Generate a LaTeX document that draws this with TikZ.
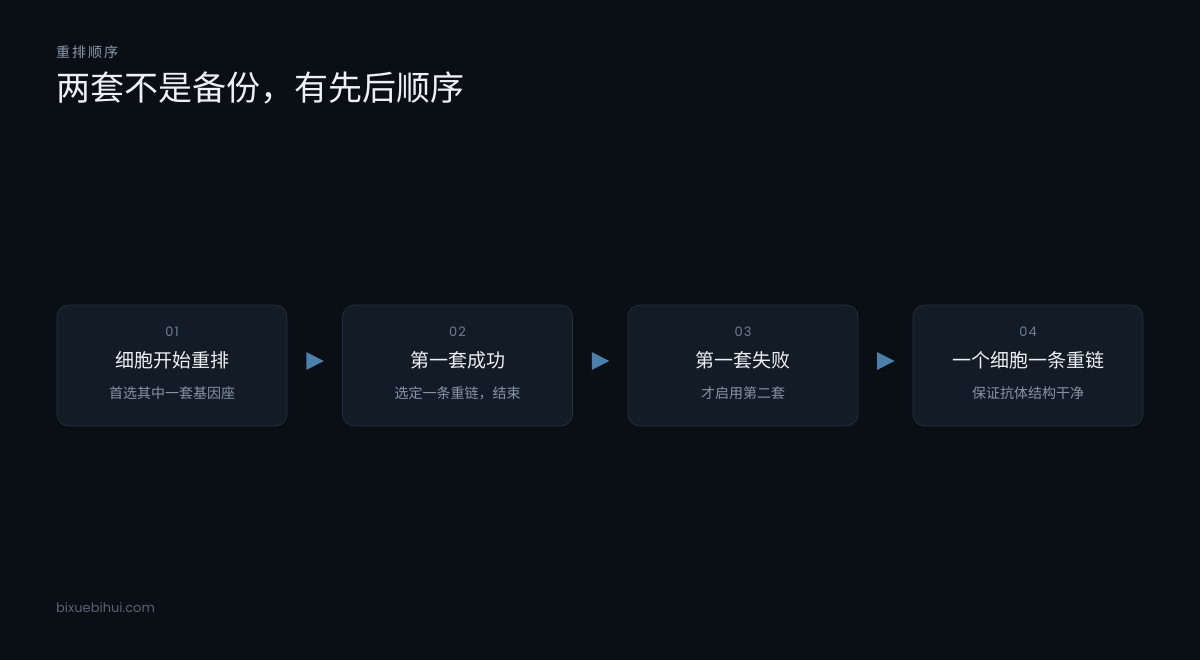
\documentclass[tikz,border=0pt]{standalone}
\usepackage{fontspec}
\usetikzlibrary{calc}
\setmainfont{Poppins}
\newfontfamily\cjk{Noto Sans CJK SC}
\newfontfamily\lat{Poppins}[LetterSpace=8]
\newfontfamily\foot{Poppins}
\definecolor{bg}{HTML}{0A0F16}
\definecolor{cardfill}{HTML}{131B27}
\definecolor{cardline}{HTML}{252F3D}
\definecolor{arrowc}{HTML}{4A80AA}
\definecolor{numc}{HTML}{6F7F90}
\definecolor{titlec}{HTML}{EDF1F5}
\definecolor{subc}{HTML}{8694A4}
\definecolor{kickc}{HTML}{8A99AA}
\definecolor{footc}{HTML}{566373}
\tikzset{
  card/.style={draw=cardline, line width=0.8pt, fill=cardfill, rounded corners=12pt, minimum width=230pt, minimum height=121pt, inner sep=0pt},
  numtxt/.style={text=numc, font=\lat\fontsize{13}{15}\selectfont, anchor=center},
  cardtitle/.style={text=titlec, font=\cjk\fontsize{19}{22}\selectfont, anchor=center},
  cardsub/.style={text=subc, font=\cjk\fontsize{14}{16}\selectfont, anchor=center},
  tri/.style={fill=arrowc, draw=none},
}
\begin{document}
\begin{tikzpicture}[x=1pt,y=-1pt]
\fill[bg] (0,0) rectangle (1200,660);
\useasboundingbox (0,0) rectangle (1200,660);
\node[anchor=west, text=kickc, font=\cjk\fontsize{14}{16}\selectfont, inner sep=0pt] (kick) at (56,52) {重\kern2pt排\kern2pt顺\kern2pt序};
\node[anchor=west, text=titlec, font=\cjk\fontsize{34}{40}\selectfont, inner sep=0pt] (title) at (56,88) {两套不是备份，有先后顺序};
\foreach \i/\x/\n/\t/\s in {1/172/01/细胞开始重排/首选其中一套基因座,
                          2/457.5/02/第一套成功/选定一条重链，结束,
                          3/743/03/第一套失败/才启用第二套,
                          4/1028/04/一个细胞一条重链/保证抗体结构干净}{
  \node[card] (c\i) at (\x,365.5) {};
  \node[numtxt] (n\i) at (\x,332) {\n};
  \node[cardtitle] (t\i) at (\x,360) {\t};
  \node[cardsub] (s\i) at (\x,393) {\s};
}
\foreach \a/\b in {1/2,2/3,3/4}{
  \coordinate (m\a) at ($(c\a.east)!0.5!(c\b.west)+(0,-4.5)$);
  \fill[tri] ([xshift=-8.5pt,yshift=-9pt]m\a) -- ([xshift=9pt]m\a) -- ([xshift=-8.5pt,yshift=9pt]m\a) -- cycle;
}
\node[anchor=west, text=footc, font=\foot\fontsize{13}{15}\selectfont, inner sep=0pt] (foot) at (56,608) {bixuebihui.com};
\end{tikzpicture}
\end{document}
